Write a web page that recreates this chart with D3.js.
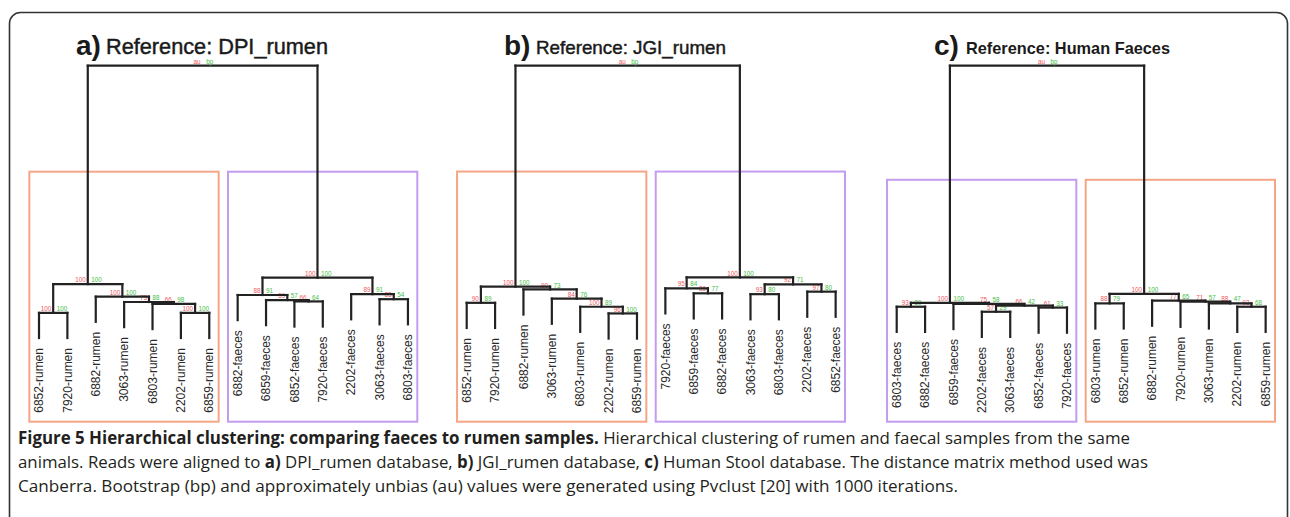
<!DOCTYPE html>
<html>
<head>
<meta charset="utf-8">
<script src="https://cdn.jsdelivr.net/npm/d3@7"></script>
<style>
  body { margin: 0; background: #fff; }
</style>
</head>
<body>
<div id="chart"></div>
<script>
// hclust-style merge tables: [left, right, height, au, bp]
// negative = leaf (1-based index into the leaf order), positive = earlier merge row

// a) DPI_rumen
const leavesA = ["6852-rumen", "7920-rumen", "6882-rumen", "3063-rumen", "6803-rumen", "2202-rumen", "6859-rumen",
                 "6882-faeces", "6859-faeces", "6852-faeces", "7920-faeces", "2202-faeces", "3063-faeces", "6803-faeces"];
const mergesA = [
    [-6, -7, 0.115, 100, 100],
    [-1, -2, 0.115, 100, 100],
    [-5, 1, 0.147, 66, 98],
    [-4, 3, 0.154, 73, 88],
    [-3, 4, 0.173, 100, 100],
    [2, 5, 0.218, 100, 100],
    [-10, -11, 0.156, 66, 64],
    [-9, 7, 0.161, 59, 57],
    [-8, 8, 0.179, 88, 91],
    [-13, -14, 0.164, 85, 54],
    [-12, 10, 0.182, 89, 91],
    [9, 11, 0.241, 100, 100],
    [6, 12, 1.0, "au", "bp"]
];

// b) JGI_rumen
const leavesB = ["6852-rumen", "7920-rumen", "6882-rumen", "3063-rumen", "6803-rumen", "2202-rumen", "6859-rumen",
                 "7920-faeces", "6859-faeces", "6882-faeces", "3063-faeces", "6803-faeces", "2202-faeces", "6852-faeces"];
const mergesB = [
    [-6, -7, 0.113, 96, 100],
    [-1, -2, 0.151, 90, 89],
    [-5, 1, 0.137, 100, 89],
    [-4, 3, 0.166, 84, 76],
    [-3, 4, 0.199, 90, 73],
    [2, 5, 0.209, 100, 100],
    [-9, -10, 0.185, 86, 77],
    [-8, 7, 0.203, 95, 84],
    [-11, -12, 0.182, 93, 80],
    [-13, -14, 0.191, 97, 80],
    [9, 10, 0.217, 92, 71],
    [8, 11, 0.242, 100, 100],
    [6, 12, 1.0, "au", "bp"]
];

// c) Human Faeces
const leavesC = ["6803-faeces", "6882-faeces", "6859-faeces", "2202-faeces", "3063-faeces", "6852-faeces", "7920-faeces",
                 "6803-rumen", "6852-rumen", "6882-rumen", "7920-rumen", "3063-rumen", "2202-rumen", "6859-rumen"];
const mergesC = [
    [-4, -5, 0.119, 57, 29],
    [-6, -7, 0.134, 61, 33],
    [1, 2, 0.141, 66, 42],
    [-3, 3, 0.147, 75, 58],
    [-1, -2, 0.137, 93, 80],
    [5, 4, 0.151, 100, 100],
    [-13, -14, 0.137, 93, 68],
    [-12, 7, 0.149, 88, 47],
    [-11, 8, 0.155, 71, 57],
    [-10, 9, 0.159, 77, 65],
    [-8, -9, 0.149, 88, 79],
    [11, 10, 0.183, 100, 100],
    [6, 12, 1.0, "au", "bp"]
];

const panelLetters = ["a)", "b)", "c)"];
const panelTitles = ["Reference: DPI_rumen", "Reference: JGI_rumen", "Reference: Human Faeces"];

const captionLine1 = [["Figure 5 Hierarchical clustering: comparing faeces to rumen samples.", true],
                      [" Hierarchical clustering of rumen and faecal samples from the same", false]];
const captionLine2 = [["animals. Reads were aligned to ", false], ["a)", true], [" DPI_rumen database, ", false],
                      ["b)", true], [" JGI_rumen database, ", false], ["c)", true],
                      [" Human Stool database. The distance matrix method used was", false]];
const captionLine3 = [["Canberra. Bootstrap (bp) and approximately unbias (au) values were generated using Pvclust [20] with 1000 iterations.", false]];

// layout
const W = 1290, H = 517;
const step = 28.38;
const hang = 0.09;
const boxBottom = 421.7;
const auColor = "#f0575c", bpColor = "#45c045";
const rumenColor = "#f5a687", faecesColor = "#c49cef";

const panels = [
    { leaves: leavesA, merges: mergesA, x0: 39,    letterX: 76,  titleX: 106, titleW: 222, titleSize: 21.5, titleY: 53.8, bold: false },
    { leaves: leavesB, merges: mergesB, x0: 466.7, letterX: 504, titleX: 536, titleW: 190, titleSize: 18.5, titleY: 53.8, bold: false },
    { leaves: leavesC, merges: mergesC, x0: 896.7, letterX: 934, titleX: 966, titleW: 204, titleSize: 17,   titleY: 53.8, bold: true }
];

const svg = d3.select("#chart")
    .append("svg")
    .attr("width", W)
    .attr("height", H)
    .style("font-family", "'Liberation Sans', Arial, sans-serif");

// outer rounded frame
svg.append("rect")
    .attr("x", 9.5).attr("y", 12.5)
    .attr("width", 1278).attr("height", 560)
    .attr("rx", 11)
    .attr("fill", "none")
    .attr("stroke", "#333")
    .attr("stroke-width", 1.6);

const yScale = d3.scaleLinear().domain([0, 1]).range([345, 65.7]);

panels.forEach((p, pi) => {
    const g = svg.append("g");
    const xScale = d3.scalePoint()
        .domain(p.leaves)
        .range([p.x0, p.x0 + (p.leaves.length - 1) * step]);

    // node positions from the merge table
    const nodes = p.merges.map(() => null);
    function pos(ref) {
        if (ref < 0) {
            const name = p.leaves[-ref - 1];
            return { x: xScale(name), h: null, lo: -ref - 1, hi: -ref - 1 };
        }
        return nodes[ref - 1];
    }
    p.merges.forEach((m, i) => {
        const a = pos(m[0]), b = pos(m[1]);
        nodes[i] = { x: (a.x + b.x) / 2, h: m[2], lo: Math.min(a.lo, b.lo), hi: Math.max(a.hi, b.hi) };
    });

    // cluster boxes for the two top clusters
    const root = p.merges[p.merges.length - 1];
    const kids = [pos(root[0]), pos(root[1])];
    const boxTop = yScale((root[2] + d3.max(kids, k => k.h)) / 2);
    kids.forEach(k => {
        const isRumen = p.leaves[k.lo].includes("rumen");
        const x1 = xScale(p.leaves[k.lo]) - 0.34 * step;
        const x2 = xScale(p.leaves[k.hi]) + 0.33 * step;
        g.append("rect")
            .attr("x", x1).attr("y", boxTop)
            .attr("width", x2 - x1).attr("height", boxBottom - boxTop)
            .attr("fill", "none")
            .attr("stroke", isRumen ? rumenColor : faecesColor)
            .attr("stroke-width", 2);
    });

    // dendrogram segments
    p.merges.forEach((m, i) => {
        const node = nodes[i];
        const yN = yScale(m[2]);
        [m[0], m[1]].forEach(ref => {
            const c = pos(ref);
            const ch = ref < 0 ? m[2] - hang : c.h;
            g.append("line")
                .attr("x1", c.x).attr("x2", c.x)
                .attr("y1", yN).attr("y2", yScale(ch))
                .attr("stroke", "#222").attr("stroke-width", 2.2)
                .attr("stroke-linecap", "square");
        });
        g.append("line")
            .attr("x1", pos(m[0]).x).attr("x2", pos(m[1]).x)
            .attr("y1", yN).attr("y2", yN)
            .attr("stroke", "#222").attr("stroke-width", 2.2)
            .attr("stroke-linecap", "square");

        // au / bp values
        g.append("text")
            .attr("x", node.x - 2).attr("y", yN - 1.9)
            .attr("text-anchor", "end")
            .attr("font-size", "6.3px")
            .attr("fill", auColor)
            .text(m[3]);
        g.append("text")
            .attr("x", node.x + 3.5).attr("y", yN - 1.9)
            .attr("font-size", "6.3px")
            .attr("fill", bpColor)
            .text(m[4]);
    });

    // leaf labels
    p.merges.forEach(m => {
        [m[0], m[1]].forEach(ref => {
            if (ref >= 0) return;
            const name = p.leaves[-ref - 1];
            const yEnd = yScale(m[2] - hang) + 10;
            g.append("text")
                .attr("transform", `translate(${xScale(name)}, ${yEnd}) rotate(-90)`)
                .attr("dy", "0.35em")
                .attr("text-anchor", "end")
                .attr("font-size", "12px")
                .attr("fill", "#2a2a2a")
                .text(name);
        });
    });

    // panel titles
    g.append("text")
        .attr("x", p.letterX).attr("y", p.titleY + 1.5)
        .attr("font-size", "28px")
        .attr("font-weight", "bold")
        .attr("fill", "#1a1a1a")
        .text(panelLetters[pi]);
    g.append("text")
        .attr("x", p.titleX).attr("y", p.titleY)
        .attr("font-size", p.titleSize + "px")
        .attr("font-weight", p.bold ? "bold" : "normal")
        .attr("stroke", p.bold ? "none" : "#1a1a1a")
        .attr("stroke-width", 0.45)
        .attr("fill", "#1a1a1a")
        .attr("textLength", p.titleW)
        .attr("lengthAdjust", "spacingAndGlyphs")
        .text(panelTitles[pi]);
});

// caption: each line is a run of segments squeezed to the reference line width
const cap = svg.append("g")
    .style("font-family", "'Open Sans', 'Noto Sans', sans-serif")
    .attr("font-size", "17px")
    .attr("fill", "#231f20");

function captionLine(segments, y, totalWidth) {
    // measure a space once so the segments can be drawn trimmed, with gaps between them
    const probe = cap.append("text").style("white-space", "pre").text("a a");
    const probe2 = cap.append("text").text("aa");
    const spaceW = probe.node().getComputedTextLength() - probe2.node().getComputedTextLength();
    probe.remove(); probe2.remove();

    const parts = segments.map(s => {
        const lead = s[0].length - s[0].trimStart().length;
        const trail = s[0].length - s[0].trimEnd().length;
        const t = cap.append("text")
            .attr("y", y)
            .attr("font-weight", s[1] ? "bold" : "normal")
            .text(s[0].trim());
        return { t, lead, trail, w: t.node().getComputedTextLength() };
    });
    const natural = d3.sum(parts, p => p.w + (p.lead + p.trail) * spaceW);
    const k = totalWidth / natural;
    let x = 18;
    parts.forEach(p => {
        x += p.lead * spaceW * k;
        p.t.attr("x", x)
           .attr("textLength", p.w * k)
           .attr("lengthAdjust", "spacingAndGlyphs");
        x += p.w * k + p.trail * spaceW * k;
    });
}

captionLine(captionLine1, 443.5, 1112);
captionLine(captionLine2, 468, 1130);
captionLine(captionLine3, 492, 940);
</script>
</body>
</html>
